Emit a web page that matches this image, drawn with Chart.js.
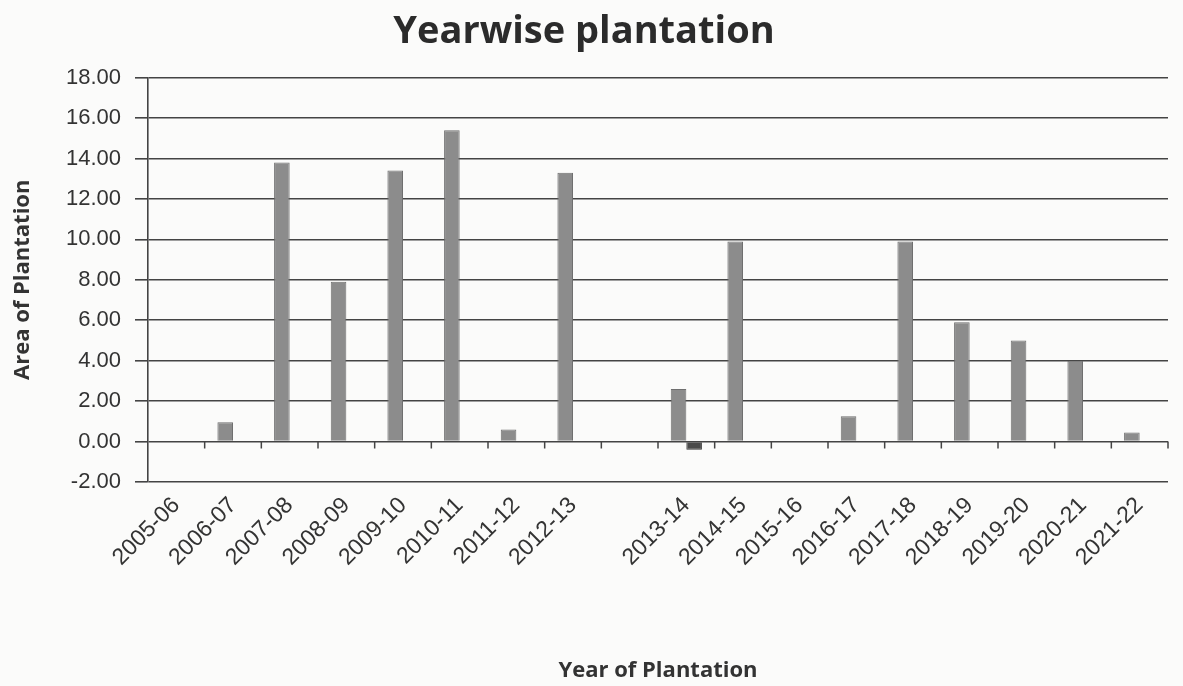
<!DOCTYPE html>
<html>
<head>
<meta charset="utf-8">
<script src="https://cdn.jsdelivr.net/npm/chart.js@4.4.1/dist/chart.umd.min.js"></script>
<style>
  html, body { margin: 0; padding: 0; background: #fbfbfa; }
  #wrap { width: 1183px; height: 686px; }
</style>
</head>
<body>
<div id="wrap"><canvas id="plantation-chart"></canvas></div>
<script>
const years = ["2005-06", "2006-07", "2007-08", "2008-09", "2009-10", "2010-11", "2011-12", "2012-13", "",
  "2013-14", "2014-15", "2015-16", "2016-17", "2017-18", "2018-19", "2019-20", "2020-21", "2021-22"];
const areaPlanted = [null, 0.95, 13.8, 7.9, 13.4, 15.4, 0.6, 13.3, null,
  2.6, 9.9, null, 1.25, 9.9, 5.9, 5.0, 4.0, 0.45];
const areaLost = [null, null, null, null, null, null, null, null, null,
  -0.4, null, null, null, null, null, null, null, null];
const yTicks = { min: -2, max: 18, step: 2 };

const lineColor = "#444444";
const textColor = "#333333";

// little tick marks on the zero line between the categories
const zeroTicks = {
  id: "zeroTicks",
  afterDraw(chart) {
    const { ctx, scales } = chart;
    const x = scales.x;
    const y0 = scales.y.getPixelForValue(0);
    const step = x.width / years.length;
    ctx.save();
    ctx.strokeStyle = lineColor;
    ctx.lineWidth = 1.5;
    ctx.beginPath();
    for (let i = 1; i <= years.length; i++) {
      const px = x.left + i * step;
      ctx.moveTo(px, y0);
      ctx.lineTo(px, y0 + 7);
    }
    ctx.stroke();
    ctx.restore();
  },
};

const canvas = document.querySelector("#plantation-chart");
new Chart(canvas, {
  type: "bar",
  data: {
    labels: years,
    datasets: [
      {
        label: "Area",
        data: areaPlanted,
        backgroundColor: "#8c8c8c",
        borderColor: "#6f6f6f",
        borderWidth: 1,
        categoryPercentage: 0.55,
        barPercentage: 1,
      },
      {
        label: "Loss",
        data: areaLost,
        backgroundColor: "#4a4a4a",
        borderColor: "#383838",
        borderWidth: 1,
        categoryPercentage: 0.55,
        barPercentage: 1,
      },
    ],
  },
  options: {
    responsive: true,
    maintainAspectRatio: false,
    animation: false,
    layout: { padding: { left: 0, right: 15, top: 0, bottom: 0 } },
    plugins: {
      legend: { display: false },
      tooltip: { enabled: false },
      title: {
        display: true,
        text: "Yearwise plantation",
        color: "#2b2b2b",
        font: { family: "Open Sans", size: 38, weight: "bold" },
        padding: { top: 9, bottom: 23 },
      },
    },
    scales: {
      x: {
        afterFit(scale) { scale.height = 204; },
        grid: { display: false },
        border: { display: false },
        ticks: {
          autoSkip: false,
          minRotation: 45,
          maxRotation: 45,
          padding: 2,
          color: textColor,
          font: { family: "Liberation Sans", size: 23 },
        },
        title: {
          display: true,
          text: "Year of Plantation",
          color: textColor,
          font: { family: "Open Sans", size: 22, weight: "bold" },
          padding: { top: 0, bottom: 2 },
        },
      },
      y: {
        min: yTicks.min,
        max: yTicks.max,
        afterFit(scale) { scale.width = 148; },
        grid: { color: lineColor, lineWidth: 1.6, tickLength: 13 },
        border: { color: lineColor, width: 1.6 },
        ticks: {
          stepSize: yTicks.step,
          padding: 14,
          color: textColor,
          font: { family: "Liberation Sans", size: 22 },
          callback: (v) => v.toFixed(2),
        },
        title: {
          display: true,
          text: "Area of Plantation",
          color: textColor,
          font: { family: "Open Sans", size: 22, weight: "bold" },
          padding: { top: 10, bottom: 0 },
        },
      },
    },
  },
  plugins: [zeroTicks],
});
</script>
</body>
</html>
